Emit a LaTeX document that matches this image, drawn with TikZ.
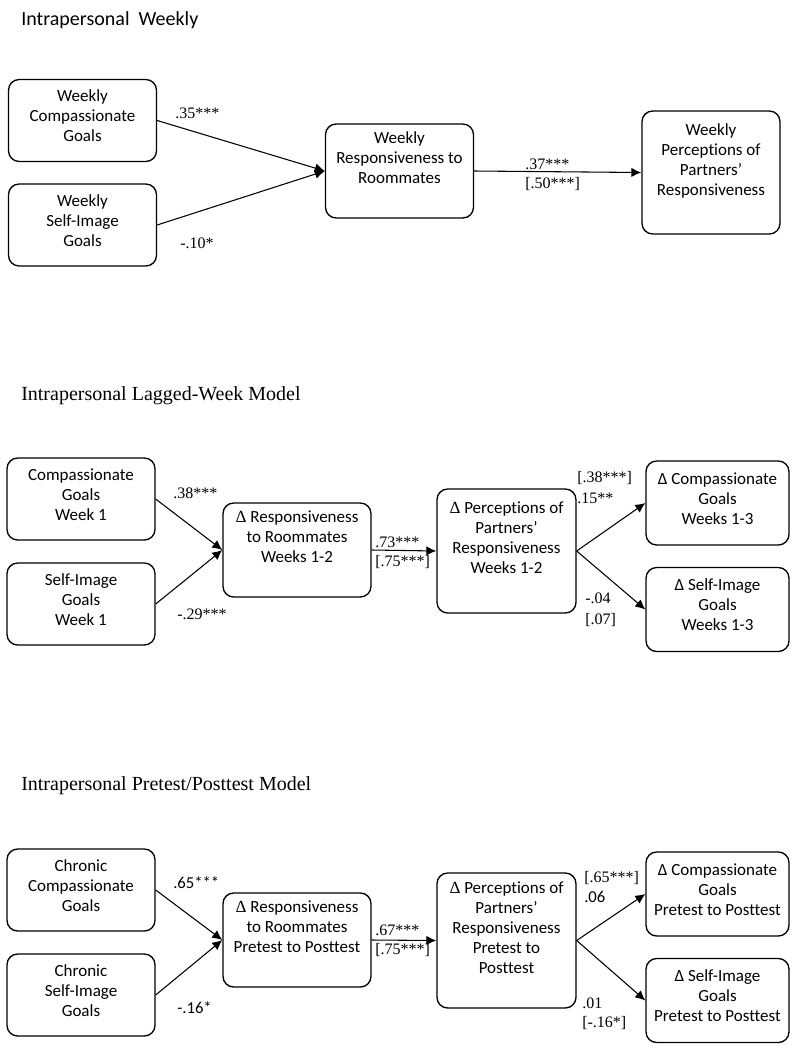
\documentclass[tikz,border=0pt]{standalone}
\usepackage{fontspec}
\usetikzlibrary{arrows.meta}
\setmainfont{Liberation Serif}
\newfontfamily\boxfont{Carlito}[Ligatures=NoCommon]
\begin{document}
\begin{tikzpicture}[x=0.75pt,y=-0.75pt]
  \tikzstyle{every node}=[font=\fontsize{12}{15}\selectfont]
  \tikzstyle{goalbox}=[draw,line width=1pt,rounded corners=8pt,align=center,inner sep=2pt,font=\boxfont\fontsize{12.75}{15}\selectfont]
  \tikzstyle{lifted}=[execute at end node={\rule[-7pt]{0pt}{7pt}}]
  \tikzstyle{side}=[goalbox,lifted,minimum width=111pt,minimum height=61.5pt]
  \tikzstyle{mid}=[goalbox,minimum width=111pt,minimum height=70.5pt]
  \tikzstyle{perc}=[goalbox,minimum width=104.25pt,minimum height=93pt]
  \tikzstyle{outc}=[goalbox,lifted,minimum width=107.25pt,minimum height=63pt]
  \tikzstyle{coef}=[anchor=west,inner sep=0pt]
  \tikzstyle{sanscoef}=[coef,font=\boxfont\fontsize{12.5}{15}\selectfont]
  \tikzstyle{heading}=[coef,font=\fontsize{15}{18}\selectfont]
  \tikzstyle{link}=[line width=0.8pt,-{Latex[length=7.5pt,width=7pt]}]
  \useasboundingbox (0,0) rectangle (803,1050);

  % weekly model
  \node[heading,font=\boxfont\fontsize{15}{18}\selectfont] (title1) at (21,20) {Intrapersonal\ \ Weekly};
  \node[side] (wcomp) at (82.5,120.5) {Weekly\\Compassionate\\Goals};
  \node[side] (wself) at (82.5,225) {Weekly\\Self-Image\\Goals};
  \node[mid] (wresp) at (399.5,171) {Weekly\\Responsiveness to\\Roommates\\\strut};
  \node[perc,minimum width=103.5pt,minimum height=92.25pt] (wperc) at (711,172.5) {Weekly\\Perceptions of\\Partners’\\Responsiveness\\\strut};
  \draw[link] (wcomp.east) -- (wresp.west);
  \draw[link] (wself.east) -- (wresp.west);
  \draw[link] (wresp.east) -- (wperc.west);
  \node[coef] (w1) at (175,113) {.35***};
  \node[coef] (w2) at (180,243) {-.10*};
  \node[coef] (w3) at (525,164) {.37***};
  \node[coef] (w4) at (525,184) {[.50***]};

  % lagged-week model
  \node[heading] (title2) at (21,396) {Intrapersonal Lagged-Week Model};
  \node[side] (lcomp) at (81,499) {Compassionate\\Goals\\Week 1};
  \node[side] (lself) at (81,604) {Self-Image\\Goals\\Week 1};
  \node[mid] (lresp) at (297,550) {{\rmfamily Δ} Responsiveness\\to Roommates\\Weeks 1-2\\\strut};
  \node[perc] (lperc) at (506.5,551) {{\rmfamily Δ} Perceptions of\\Partners’\\Responsiveness\\Weeks 1-2\\\strut};
  \node[outc] (lcout) at (717.5,503) {Δ Compassionate\\Goals\\Weeks 1-3};
  \node[outc] (lsout) at (717.5,609.5) {Δ Self-Image\\Goals\\Weeks 1-3};
  \draw[link] (lcomp.east) -- (lresp.west);
  \draw[link] (lself.east) -- (lresp.west);
  \draw[link] (lresp.east) -- (lperc.west);
  \draw[link] (lperc.east) -- (lcout.west);
  \draw[link] (lperc.east) -- (lsout.west);
  \node[coef] (l1) at (173,493) {.38***};
  \node[coef] (l2) at (177,614) {-.29***};
  \node[coef] (l3) at (375,542) {.73***};
  \node[coef] (l4) at (375,562) {[.75***]};
  \node[coef] (l5) at (577,478) {[.38***]};
  \node[coef] (l6) at (577,498) {.15**};
  \node[coef] (l7) at (585,598) {-.04};
  \node[coef] (l8) at (585,620) {[.07]};

  % pretest/posttest model
  \node[heading] (title3) at (21,786) {Intrapersonal Pretest/Posttest Model};
  \node[side] (pcomp) at (81,890) {Chronic\\Compassionate\\Goals};
  \node[side] (pself) at (81,995) {Chronic\\Self-Image\\Goals};
  \node[mid] (presp) at (297,940) {{\rmfamily Δ} Responsiveness\\to Roommates\\Pretest to Posttest\\\strut};
  \node[perc,minimum height=101.25pt] (pperc) at (506.5,940.5) {{\rmfamily Δ} Perceptions of\\Partners’\\Responsiveness\\Pretest to\\Posttest\\\strut};
  \node[outc] (pcout) at (717.5,894) {Δ Compassionate\\Goals\\Pretest to Posttest};
  \node[outc] (psout) at (717.5,1000.5) {Δ Self-Image\\Goals\\Pretest to Posttest};
  \draw[link] (pcomp.east) -- (presp.west);
  \draw[link] (pself.east) -- (presp.west);
  \draw[link] (presp.east) -- (pperc.west);
  \draw[link] (pperc.east) -- (pcout.west);
  \draw[link] (pperc.east) -- (psout.west);
  \node[sanscoef] (p1) at (173,883) {.65***};
  \node[sanscoef] (p2) at (177,1008) {-.16*};
  \node[coef] (p3) at (375,930) {.67***};
  \node[coef] (p4) at (375,950) {[.75***]};
  \node[coef] (p5) at (584,878) {[.65***]};
  \node[sanscoef] (p6) at (584,897) {.06};
  \node[coef] (p7) at (582,1003) {.01};
  \node[coef] (p8) at (582,1023) {[-.16*]};
\end{tikzpicture}
\end{document}
